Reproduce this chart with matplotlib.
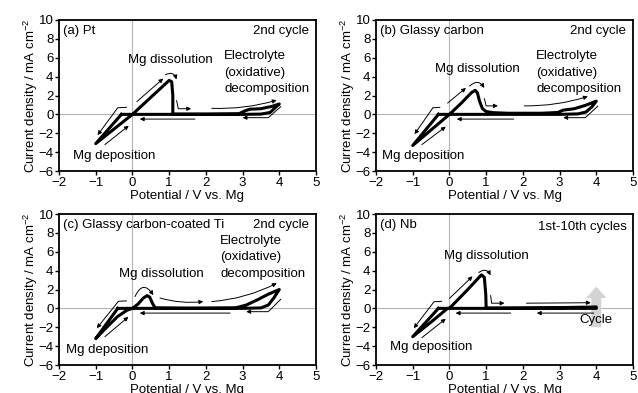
import matplotlib
matplotlib.use("Agg")
import matplotlib.pyplot as plt
from matplotlib.patches import FancyArrow

plt.rcParams['font.family'] = ['Liberation Sans', 'DejaVu Sans']
plt.rcParams['mathtext.default'] = 'regular'
FS = 9.5

# ---------------- data (potential / V vs Mg, current density / mA cm-2) -------------
E_a = [-0.3, -1.0, -0.5, 0.0, 0.5, 1.0, 1.07, 1.1, 1.1, 2.0, 2.9, 3.05, 3.2, 3.5, 3.8, 4.0,
       3.9, 3.75, 3.5, 3.0, 2.0, 0.0, -0.3]
j_a = [0.0, -3.1, -1.55, 0.0, 1.8, 3.6, 3.45, 2.0, 0.03, 0.03, 0.06, 0.35, 0.55, 0.6, 0.85, 1.1,
       0.75, 0.2, 0.03, 0.0, 0.0, 0.0, 0.0]

E_b = [-0.3, -1.0, -0.5, 0.0, 0.3, 0.6, 0.7, 0.76, 0.82, 0.9, 1.0, 1.2, 1.6, 2.5, 2.95, 3.1,
       3.4, 3.7, 4.0, 3.88, 3.72, 3.5, 3.0, 2.0, 0.0, -0.3]
j_b = [0.0, -3.3, -1.65, 0.0, 1.1, 2.3, 2.55, 2.3, 1.4, 0.6, 0.3, 0.18, 0.12, 0.12, 0.2, 0.45,
       0.6, 0.95, 1.4, 0.8, 0.25, 0.05, 0.0, 0.0, 0.0, 0.0]

E_c = [-0.4, -1.0, -0.7, -0.4, -0.15, 0.0, 0.15, 0.3, 0.4, 0.47, 0.55, 0.62, 1.5, 2.8, 3.1,
       3.4, 3.7, 4.0, 3.85, 3.7, 3.5, 3.0, 2.0, 0.0, -0.4]
j_c = [0.0, -3.2, -2.0, -0.85, -0.2, 0.0, 0.45, 1.1, 1.35, 1.2, 0.5, 0.05, 0.02, 0.05, 0.35,
       0.9, 1.5, 2.0, 1.1, 0.35, 0.05, 0.0, 0.0, 0.0, 0.0]

E_d = [-0.3, -1.0, -0.5, -0.05, 0.0, 0.5, 0.87, 0.95, 0.99, 1.0, 2.0, 3.0, 4.0, 4.0, 3.0,
       2.0, 0.0, -0.3]
j_d = [0.0, -3.0, -1.45, 0.0, 0.0, 2.0, 3.55, 3.3, 1.5, 0.03, 0.05, 0.08, 0.15, 0.0, 0.0,
       0.0, 0.0, 0.0]

x_ticks = [-2, -1, 0, 1, 2, 3, 4, 5]
y_ticks = [-6, -4, -2, 0, 2, 4, 6, 8, 10]

panels = [
    dict(E=E_a, j=j_a, label="(a) Pt", cyc="2nd cycle"),
    dict(E=E_b, j=j_b, label="(b) Glassy carbon", cyc="2nd cycle"),
    dict(E=E_c, j=j_c, label="(c) Glassy carbon-coated Ti", cyc="2nd cycle"),
    dict(E=E_d, j=j_d, label="(d) Nb", cyc="1st-10th cycles"),
]

W, H = 638, 393
fig = plt.figure(figsize=(W / 100, H / 100), dpi=100)
boxes = [(59, 20), (376, 20), (59, 214), (376, 214)]
axes = []
for (lx, ty) in boxes:
    ax = fig.add_axes([lx / W, 1 - (ty + 151) / H, 257 / W, 151 / H])
    axes.append(ax)


def guide(ax, pts, rad=0.0):
    if len(pts) > 2:
        xs = [p[0] for p in pts[:-1]]
        ys = [p[1] for p in pts[:-1]]
        ax.plot(xs, ys, color='k', lw=0.7, solid_capstyle='butt', solid_joinstyle='round')
    ax.annotate("", xy=pts[-1], xytext=pts[-2],
                arrowprops=dict(arrowstyle='-|>', lw=0.7, color='k', mutation_scale=6,
                                shrinkA=0, shrinkB=0,
                                connectionstyle=f"arc3,rad={rad}"))


for ax, p in zip(axes, panels):
    ax.set_xlim(-2, 5)
    ax.set_ylim(-6, 10)
    ax.axhline(0, color='#b4b4b4', lw=0.8, zorder=0)
    ax.axvline(0, color='#b4b4b4', lw=0.8, zorder=0)
    ax.plot(p["E"], p["j"], color='k', lw=2.2, solid_joinstyle='round', zorder=3)
    ax.set_xticks(x_ticks)
    ax.set_yticks(y_ticks)
    ax.tick_params(direction='out', length=3, width=1, labelsize=FS, pad=1,
                   top=False, right=False)
    for s in ax.spines.values():
        s.set_linewidth(1.3)
    ax.set_xlabel("Potential / V vs. Mg", fontsize=FS, labelpad=1)
    ax.set_ylabel("Current density / mA cm$^{-2}$", fontsize=FS, labelpad=-1)
    ax.text(-1.9, 8.87, p["label"], fontsize=FS, ha='left', va='center')
    ax.text(4.82, 8.87 if p["cyc"] == "2nd cycle" else 8.6, p["cyc"], fontsize=FS,
            ha='right', va='center')

# ---- annotations: (a)
ax = axes[0]
ax.text(1.02, 5.76, "Mg dissolution", fontsize=FS, ha='center', va='center')
for t, y in zip(["Electrolyte", "(oxidative)", "decomposition"], [6.19, 4.42, 2.66]):
    ax.text(2.5, y, t, fontsize=FS, ha='left', va='center')
ax.text(-1.61, -4.4, "Mg deposition", fontsize=FS, ha='left', va='center')
guide(ax, [(-0.15, 0.75), (-0.4, 0.7), (-0.95, -2.2)])
guide(ax, [(-0.75, -3.2), (-0.1, -1.2)])
guide(ax, [(0.12, 1.35), (0.84, 3.8)])
guide(ax, [(0.9, 4.2), (1.2, 3.7)], rad=-0.6)
guide(ax, [(1.2, 1.5), (1.25, 0.6), (1.6, 0.6)])
guide(ax, [(1.7, -0.5), (0.2, -0.5)])
guide(ax, [(2.16, 0.64), (3.93, 1.5)], rad=0.08)
guide(ax, [(4.05, 0.85), (3.7, -0.35), (3.0, -0.35)])

# ---- (b)
ax = axes[1]
ax.text(0.77, 4.78, "Mg dissolution", fontsize=FS, ha='center', va='center')
for t, y in zip(["Electrolyte", "(oxidative)", "decomposition"], [6.19, 4.42, 2.66]):
    ax.text(2.36, y, t, fontsize=FS, ha='left', va='center')
ax.text(-1.83, -4.4, "Mg deposition", fontsize=FS, ha='left', va='center')
guide(ax, [(-0.25, 0.75), (-0.45, 0.7), (-0.95, -2.1)])
guide(ax, [(-0.75, -3.2), (-0.1, -1.3)])
guide(ax, [(-0.05, 1.2), (0.45, 2.8)])
guide(ax, [(0.55, 3.0), (0.95, 2.8)], rad=-0.6)
guide(ax, [(0.95, 1.7), (1.0, 0.9), (1.32, 0.9)])
guide(ax, [(1.75, -0.5), (0.2, -0.5)])
guide(ax, [(2.04, 0.9), (3.77, 1.9)], rad=0.08)
guide(ax, [(4.05, 0.9), (3.7, -0.35), (3.1, -0.35)])

# ---- (c)
ax = axes[2]
ax.text(0.8, 3.63, "Mg dissolution", fontsize=FS, ha='center', va='center')
for t, y in zip(["Electrolyte", "(oxidative)", "decomposition"], [7.17, 5.4, 3.63]):
    ax.text(2.39, y, t, fontsize=FS, ha='left', va='center')
ax.text(-1.8, -4.4, "Mg deposition", fontsize=FS, ha='left', va='center')
guide(ax, [(-0.15, 0.8), (-0.38, 0.75), (-0.97, -2.1)])
guide(ax, [(-0.75, -3.0), (-0.11, -0.9)])
guide(ax, [(0.07, 1.25), (0.57, 1.4)], rad=-0.9)
guide(ax, [(0.75, 1.1), (1.93, 0.72)], rad=0.1)
guide(ax, [(2.16, 0.72), (3.93, 2.67)], rad=0.1)
guide(ax, [(4.05, 1.0), (3.7, -0.35), (3.1, -0.35)])
guide(ax, [(2.66, -0.5), (0.2, -0.5)])

# ---- (d)
ax = axes[3]
ax.text(1.0, 5.6, "Mg dissolution", fontsize=FS, ha='center', va='center')
ax.text(-1.61, -4.05, "Mg deposition", fontsize=FS, ha='left', va='center')
ax.add_patch(FancyArrow(4.0, -2.0, 0, 4.3, width=0.27, head_width=0.55, head_length=1.2,
                        length_includes_head=True, color='#d3d3d3', lw=0, zorder=1))
ax.text(4.0, -1.25, "Cycle", fontsize=FS, ha='center', va='center', zorder=4)
guide(ax, [(-0.2, 0.75), (-0.42, 0.7), (-0.97, -2.1)])
guide(ax, [(-0.75, -3.1), (-0.1, -1.1)])
guide(ax, [(0.0, 1.05), (0.63, 3.4)])
guide(ax, [(0.8, 3.8), (1.12, 3.5)], rad=-0.6)
guide(ax, [(1.12, 1.4), (1.15, 0.55), (1.5, 0.55)])
guide(ax, [(2.1, 0.55), (3.85, 0.6)])
guide(ax, [(3.93, -0.5), (2.38, -0.5)])
guide(ax, [(1.67, -0.5), (0.17, -0.5)])

fig.savefig("out.png", dpi=100)
